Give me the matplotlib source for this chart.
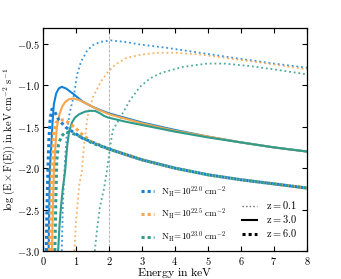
import matplotlib
matplotlib.use("Agg")
import matplotlib.pyplot as plt
from matplotlib.lines import Line2D
from matplotlib.ticker import FuncFormatter

plt.rcParams['font.family'] = 'serif'
plt.rcParams['mathtext.fontset'] = 'cm'

blue = '#1581d6'
orange = '#f6a64c'
teal = '#2f9c8c'

# ---- z = 0.1 (thin dotted) ----
e_z01_nh220 = [0.57, 0.6, 0.64, 0.67, 0.72, 0.8, 0.94, 1.03, 1.15, 1.33, 1.5, 1.73, 2.05, 2.5, 2.94, 3.75, 4.76, 5.76, 7.0, 8.0]
f_z01_nh220 = [-3.0, -2.5, -2.1, -1.9, -1.6, -1.35, -1.12, -0.88, -0.72, -0.59, -0.52, -0.48, -0.46, -0.48, -0.51, -0.55, -0.61, -0.67, -0.74, -0.79]
e_z01_nh225 = [0.95, 1.0, 1.1, 1.18, 1.24, 1.35, 1.52, 1.75, 1.97, 2.2, 2.54, 3.0, 3.5, 4.0, 4.76, 5.5, 6.27, 7.0, 8.0]
f_z01_nh225 = [-3.0, -2.65, -2.2, -2.04, -1.74, -1.38, -1.14, -0.96, -0.84, -0.75, -0.67, -0.63, -0.61, -0.61, -0.63, -0.67, -0.71, -0.75, -0.81]
e_z01_nh230 = [1.57, 1.65, 1.73, 1.85, 1.93, 2.0, 2.08, 2.12, 2.33, 2.64, 2.94, 3.24, 3.6, 4.24, 4.97, 5.5, 6.27, 7.0, 8.0]
f_z01_nh230 = [-3.0, -2.7, -2.46, -2.25, -2.05, -1.85, -1.63, -1.54, -1.4, -1.18, -1.02, -0.92, -0.85, -0.78, -0.74, -0.74, -0.77, -0.81, -0.87]

# ---- z = 3.0 (solid) ----
e_z30_nh220 = [0.17, 0.19, 0.21, 0.25, 0.29, 0.33, 0.4, 0.48, 0.57, 0.7, 0.9, 1.21, 1.5, 1.73, 2.0, 3.0, 4.0, 5.0, 6.0, 7.0, 8.0]
f_z30_nh220 = [-3.0, -2.5, -2.0, -1.75, -1.45, -1.23, -1.1, -1.04, -1.02, -1.04, -1.1, -1.2, -1.26, -1.3, -1.34, -1.45, -1.54, -1.62, -1.69, -1.75, -1.8]
e_z30_nh225 = [0.27, 0.3, 0.33, 0.38, 0.42, 0.5, 0.58, 0.68, 0.79, 0.92, 1.1, 1.4, 1.7, 2.0, 3.0, 4.0, 5.0, 6.0, 7.0, 8.0]
f_z30_nh225 = [-3.0, -2.5, -2.04, -1.72, -1.51, -1.35, -1.26, -1.2, -1.17, -1.16, -1.18, -1.24, -1.3, -1.35, -1.46, -1.55, -1.62, -1.69, -1.75, -1.8]
e_z30_nh230 = [0.46, 0.5, 0.55, 0.6, 0.67, 0.73, 0.79, 0.88, 0.97, 1.1, 1.27, 1.42, 1.58, 1.73, 1.85, 1.97, 2.5, 3.0, 4.0, 5.0, 6.0, 7.0, 8.0]
f_z30_nh230 = [-3.0, -2.7, -2.45, -2.25, -2.04, -1.75, -1.56, -1.45, -1.39, -1.35, -1.32, -1.31, -1.31, -1.34, -1.37, -1.39, -1.44, -1.48, -1.56, -1.63, -1.69, -1.75, -1.8]

# ---- z = 6.0 (thick dotted) ----
e_z60_nh220 = [0.1, 0.12, 0.15, 0.18, 0.22, 0.27, 0.33, 0.48, 0.7, 0.97, 1.2, 1.39, 1.7, 2.0, 3.0, 4.0, 5.0, 6.0, 7.0, 8.0]
f_z60_nh220 = [-3.0, -2.5, -2.0, -1.65, -1.4, -1.29, -1.3, -1.42, -1.51, -1.58, -1.64, -1.67, -1.72, -1.77, -1.9, -2.0, -2.08, -2.14, -2.19, -2.24]
e_z60_nh225 = [0.2, 0.23, 0.26, 0.3, 0.33, 0.4, 0.5, 0.67, 0.8, 0.97, 1.2, 1.5, 2.0, 3.0, 4.0, 5.0, 6.0, 7.0, 8.0]
f_z60_nh225 = [-3.0, -2.5, -2.1, -1.75, -1.55, -1.45, -1.42, -1.42, -1.46, -1.51, -1.6, -1.69, -1.77, -1.9, -2.0, -2.08, -2.14, -2.19, -2.24]
e_z60_nh230 = [0.36, 0.38, 0.4, 0.42, 0.47, 0.55, 0.67, 0.8, 0.95, 1.18, 1.5, 2.0, 3.0, 4.0, 5.0, 6.0, 7.0, 8.0]
f_z60_nh230 = [-3.0, -2.6, -2.2, -1.9, -1.72, -1.62, -1.57, -1.57, -1.59, -1.63, -1.7, -1.77, -1.9, -2.0, -2.08, -2.14, -2.19, -2.24]

nh_labels = [r'$\mathrm{N_H}\!=\!10^{22.0}\ \mathrm{cm^{-2}}$',
             r'$\mathrm{N_H}\!=\!10^{22.5}\ \mathrm{cm^{-2}}$',
             r'$\mathrm{N_H}\!=\!10^{23.0}\ \mathrm{cm^{-2}}$']
z_labels = [r'$\mathrm{z}=0.1$', r'$\mathrm{z}=3.0$', r'$\mathrm{z}=6.0$']
x_ticks = [0, 1, 2, 3, 4, 5, 6, 7, 8]
y_ticks = [-0.5, -1.0, -1.5, -2.0, -2.5, -3.0]

fig = plt.figure(figsize=(3.41, 2.79), dpi=100)
ax = fig.add_axes([0.126, 0.1, 0.774, 0.8])

ax.axvline(2.0, color='#aaaaaa', ls='--', lw=0.6, zorder=0)

thin = dict(ls=(0, (1, 1.6)), lw=1.3, alpha=0.85)
ax.plot(e_z01_nh220, f_z01_nh220, color=blue, **thin)
ax.plot(e_z01_nh225, f_z01_nh225, color=orange, **thin)
ax.plot(e_z01_nh230, f_z01_nh230, color=teal, **thin)

ax.plot(e_z30_nh220, f_z30_nh220, color=blue, lw=1.5)
ax.plot(e_z30_nh225, f_z30_nh225, color=orange, lw=1.5)
ax.plot(e_z30_nh230, f_z30_nh230, color=teal, lw=1.5)

thick = dict(ls=(0, (1, 1)), lw=2.2)
ax.plot(e_z60_nh220, f_z60_nh220, color=blue, **thick)
ax.plot(e_z60_nh225, f_z60_nh225, color=orange, **thick)
ax.plot(e_z60_nh230, f_z60_nh230, color=teal, **thick)

ax.set_xlim(0, 8)
ax.set_ylim(-3.0, -0.31)
ax.set_xticks(x_ticks)
ax.set_yticks(y_ticks)
ax.xaxis.set_major_formatter(FuncFormatter(lambda v, p: r'$%d$' % v))
ax.yaxis.set_major_formatter(FuncFormatter(lambda v, p: r'$%.1f$' % v))
ax.tick_params(direction='in', top=True, right=True, labelsize=7.5, length=3.5, width=0.8, pad=2.5)
for s in ax.spines.values():
    s.set_linewidth(0.9)

ax.set_xlabel(r'$\mathrm{Energy\ in\ keV}$', fontsize=8.5)
ax.xaxis.set_label_coords(0.5, -0.068)
ax.set_ylabel(r'$\log\,(\mathrm{E}\times\mathrm{F(E)})\ \mathrm{in\ keV\ cm^{-2}\ s^{-1}}$', fontsize=7.5)
ax.yaxis.set_label_coords(-0.1, 0.5)

h1 = [Line2D([], [], color=c, ls=(0, (1, 1)), lw=2.2) for c in (blue, orange, teal)]
leg1 = ax.legend(h1, nh_labels, loc='lower left', bbox_to_anchor=(0.342, -0.005), frameon=False,
                 fontsize=6.5, handlelength=1.4, handletextpad=0.8, labelspacing=0.9)
ax.add_artist(leg1)
h2 = [Line2D([], [], color='k', ls=(0, (1, 1.6)), lw=1.0, alpha=0.6),
      Line2D([], [], color='k', lw=1.5),
      Line2D([], [], color='k', ls=(0, (1, 1)), lw=2.2)]
ax.legend(h2, z_labels, loc='lower right', bbox_to_anchor=(1.0, 0.01), frameon=False,
          fontsize=7.5, handlelength=1.4, handletextpad=0.9, labelspacing=0.2)

fig.savefig('out.png', dpi=100)
